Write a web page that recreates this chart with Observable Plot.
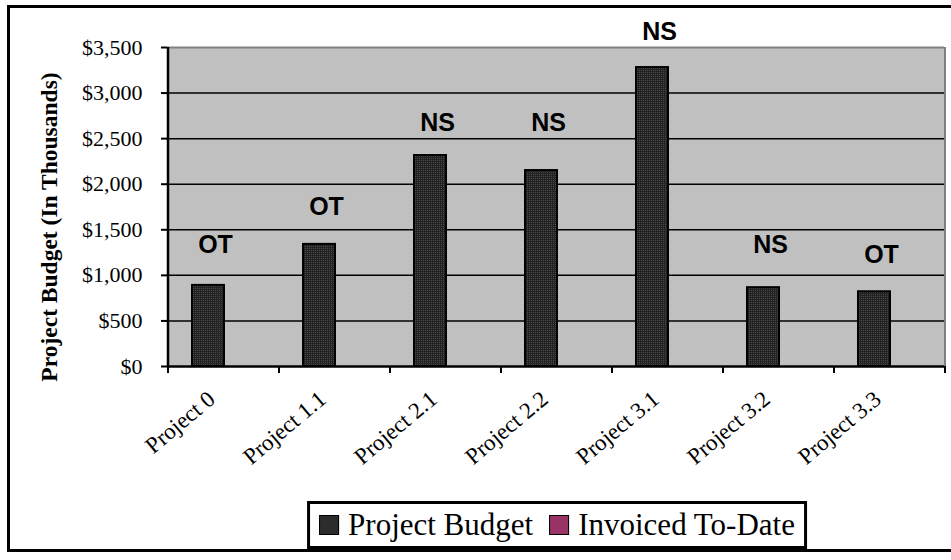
<!DOCTYPE html>
<html>
<head>
<meta charset="utf-8">
<script src="https://cdn.jsdelivr.net/npm/d3@7"></script>
<script src="https://cdn.jsdelivr.net/npm/@observablehq/plot@0.6"></script>
<style>
  html, body { margin: 0; padding: 0; background: #fff; overflow: hidden; }
  #wrap { position: relative; width: 951px; height: 560px; }
  #chart { position: absolute; left: 0; top: 0; }
  #frame { position: absolute; left: 7px; top: 5px; width: 960px; height: 547px; border: 3px solid #000; box-sizing: border-box; pointer-events: none; }
  #legend { position: absolute; top: 501px; left: 557px; transform: translateX(-50%); height: 48px; box-sizing: border-box;
    border: 3px solid #000; background: #fff; display: flex; align-items: center; padding: 0 9px 0 9px; white-space: nowrap;
    font-family: "Liberation Serif", "Times New Roman", serif; font-size: 31px; color: #000; }
  .item { display: flex; align-items: center; }
  .sw { width: 18px; height: 18px; border: 1.5px solid #000; margin-right: 9px; }
  .item + .item { margin-left: 16px; }
</style>
</head>
<body>
<div id="wrap">
  <div id="chart"></div>
  <div id="legend"></div>
  <div id="frame"></div>
</div>
<script>
// ---- data ----
const projects = ["Project 0", "Project 1.1", "Project 2.1", "Project 2.2", "Project 3.1", "Project 3.2", "Project 3.3"];
const budget   = [890, 1340, 2315, 2150, 3280, 865, 820];
const invoiced = [0, 0, 0, 0, 0, 0, 0];
const status   = ["OT", "OT", "NS", "NS", "NS", "NS", "OT"];
const statusY  = [1330, 1745, 2677, 2677, 3665, 1328, 1218];
const yTicks   = [0, 500, 1000, 1500, 2000, 2500, 3000, 3500];
const seriesNames  = ["Project Budget", "Invoiced To-Date"];
const seriesColors = ["#2c2c2c", "#993366"];
const yTitle = "Project Budget (In Thousands)";

// ---- layout ----
const W = 951, H = 495, mL = 167, mR = 7, mT = 47, mB = 129;
const step = (W - mL - mR) / projects.length;
const plotH = H - mT - mB;

const rows = projects.map((p, i) => ({project: p, budget: budget[i], invoiced: invoiced[i], status: status[i], statusY: statusY[i]}));
const fmt = d => "$" + d3.format(",")(d);

const chart = Plot.plot({
  width: W, height: H,
  marginLeft: mL, marginRight: mR, marginTop: mT, marginBottom: mB,
  style: {background: "transparent", overflow: "visible", fontFamily: "'Liberation Serif','Times New Roman',serif", color: "#000"},
  x: {domain: projects, paddingInner: 0.712, paddingOuter: 0.356, axis: null},
  y: {domain: [0, 3500], axis: null},
  marks: [
    Plot.frame({fill: "#c0c0c0", stroke: null}),
    Plot.ruleY(yTicks.filter(t => t > 0 && t < 3500), {stroke: "#000", strokeWidth: 1.5}),
    Plot.ruleY([3500], {stroke: "#808080", strokeWidth: 2}),
    Plot.ruleX([projects[projects.length - 1]], {dx: step / 2, stroke: "#808080", strokeWidth: 2}),
    Plot.barY(rows, {x: "project", y: "budget", fill: "url(#dots)", stroke: "#000", strokeWidth: 2, dx: -15}),
    Plot.barY(rows, {x: "project", y: "invoiced", fill: seriesColors[1], dx: 19}),
    // axes lines
    Plot.ruleX([projects[0]], {dx: -step / 2, stroke: "#000", strokeWidth: 2.5}),
    Plot.ruleY([0], {stroke: "#000", strokeWidth: 2.5}),
    // x boundary ticks
    Plot.ruleX(projects, {dx: -step / 2, insetTop: plotH, insetBottom: -7, stroke: "#000", strokeWidth: 2}),
    Plot.ruleX([projects[projects.length - 1]], {dx: step / 2, insetTop: plotH, insetBottom: -7, stroke: "#000", strokeWidth: 2}),
    // y axis
    Plot.axisY(yTicks, {tickSize: 6, tickPadding: 19, tickFormat: fmt, fontSize: 22, strokeWidth: 2, label: null}),
    // x labels
    Plot.text(projects, {x: d => d, text: d => d, frameAnchor: "bottom", rotate: -40, textAnchor: "end", dx: -7, dy: 35, fontSize: 23}),
    // y title
    Plot.text([yTitle], {text: d => d, frameAnchor: "left", textAnchor: "middle", rotate: -90, dx: -118, dy: 20, fontSize: 23.5, fontWeight: "bold"}),
    // status labels
    Plot.text(rows, {x: "project", y: "statusY", text: "status", dx: -8, fontSize: 25, fontWeight: "bold", fontFamily: "'Liberation Sans', Arial, sans-serif"})
  ]
});

// dotted fill pattern for the budget bars
const ns = "http://www.w3.org/2000/svg";
const defs = document.createElementNS(ns, "defs");
const pat = document.createElementNS(ns, "pattern");
pat.setAttribute("id", "dots"); pat.setAttribute("width", 2); pat.setAttribute("height", 2);
pat.setAttribute("patternUnits", "userSpaceOnUse");
const bg = document.createElementNS(ns, "rect");
bg.setAttribute("width", 2); bg.setAttribute("height", 2); bg.setAttribute("fill", "#222");
const dot = document.createElementNS(ns, "rect");
dot.setAttribute("width", 1); dot.setAttribute("height", 1); dot.setAttribute("fill", "#4a4a4a");
pat.appendChild(bg); pat.appendChild(dot); defs.appendChild(pat);
chart.insertBefore(defs, chart.firstChild);
document.getElementById("chart").appendChild(chart);

const legend = document.getElementById("legend");
seriesNames.forEach((n, i) => {
  const item = document.createElement("div");
  item.className = "item";
  const sw = document.createElement("div");
  sw.className = "sw";
  sw.style.background = seriesColors[i];
  const t = document.createElement("span");
  t.textContent = n;
  item.appendChild(sw); item.appendChild(t);
  legend.appendChild(item);
});
</script>
</body>
</html>
